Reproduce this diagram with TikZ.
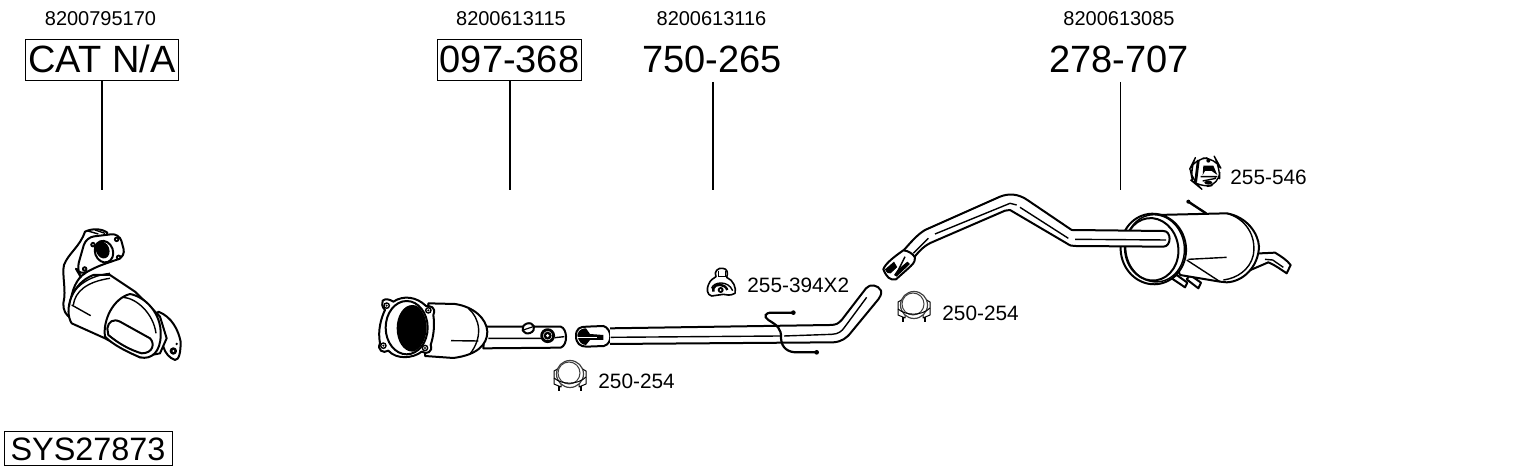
\documentclass[tikz,border=0pt]{standalone}
\usepackage{fontspec}
\setmainfont{Liberation Sans}
\usetikzlibrary{positioning}
\tikzset{
  refnum/.style={font=\fontsize{10}{12}\selectfont, inner sep=0pt},
  bignum/.style={font=\fontsize{19}{22}\selectfont, inner sep=0pt},
  boxnum/.style={bignum, draw, line width=0.5pt, minimum height=20.5pt},
  partnum/.style={font=\fontsize{10.4}{12}\selectfont, inner sep=0pt, anchor=west},
  leader/.style={line width=0.55pt},
  part/.style={draw, line width=1pt, fill=white, line join=round},
  clampicon/.pic={
    \draw[part, line width=0.5pt] (-9,-7) -- (-16,-3) -- (-16,10) -- (-9,13) -- cycle;
    \draw[part, line width=0.5pt] (9,-7) -- (16,-3) -- (16,10) -- (9,13) -- cycle;
    \draw[draw=black!75, fill=white, line width=0.6pt] (0,0) circle (13.5);
    \draw[draw=black!75, line width=0.5pt] (-1,-1) circle (11);
    \draw[line width=0.5pt] (-16,4) .. controls (-8,11) and (8,11) .. (16,3);
    \draw[line width=1pt] (-11,12) -- (-11,17) (11,12) -- (11,17);
  }
}
\begin{document}
\begin{tikzpicture}[x=0.5pt,y=-0.5pt]
\useasboundingbox (0,0) rectangle (1530,474);
% numbers on top
\node[refnum] (ref1) at (100.5,18.5) {8200795170};
\node[refnum] (ref2) at (511,18.5) {8200613115};
\node[refnum] (ref3) at (711.5,18.5) {8200613116};
\node[refnum] (ref4) at (1119,18.5) {8200613085};
\node[boxnum, minimum width=76.5pt] (cat) at (102,60) {\raisebox{1pt}{CAT N/A}};
\node[boxnum, minimum width=72pt] (front) at (509.5,60) {\raisebox{1pt}{097-368}};
\node[bignum] (middle) at (712,59) {750-265};
\node[bignum] (rear) at (1119,59) {278-707};
\node[draw, line width=0.5pt, inner sep=0pt, minimum width=84pt, minimum height=17pt, font=\fontsize{16.2}{18}\selectfont] (sys) at (88,449) {SYS27873};
% leader lines
\coordinate (catend) at (102,190);
\coordinate (frontend) at (510,190);
\coordinate (middleend) at (713,190);
\coordinate (rearend) at (1120.5,190);
\draw[leader] (cat.south -| catend) -- (catend);
\draw[leader] (front.south -| frontend) -- (frontend);
\draw[leader] (713,82) -- (middleend);
\draw[leader] (1120.5,82) -- (rearend);
% part labels
\node[partnum] (clamp1) at (598,381) {250-254};
\node[partnum] (clamp2) at (942,313) {250-254};
\node[partnum] (hanger1) at (747,285) {255-394X2};
\node[partnum] (hanger2) at (1230,177) {255-546};
% catalyst
\begin{scope}[shift={(30,210)},scale=1/3]
  \draw[part] (385,305) .. controls (425,320) and (445,360) .. (452,395) .. controls (452,425) and (448,450) .. (435,450) .. controls (420,445) and (405,430) .. (400,410) -- (370,330) -- cycle;
  \draw[part, fill=black] (430,423) circle (8);
  \fill[white] (430,423) circle (3);
  \fill (440,402) circle (4);
  \draw[part] (165,65) .. controls (185,55) and (215,55) .. (232,68) -- (200,160) -- (165,190) .. controls (140,205) and (125,240) .. (120,285) -- (125,325) .. controls (105,315) and (100,300) .. (100,280) .. controls (110,240) and (95,195) .. (102,165) .. controls (115,130) and (150,110) .. (165,65) -- cycle;
  \draw[line width=0.7pt] (170,62) -- (205,72) (195,60) -- (225,70);
  \draw[part] (125,340) .. controls (100,300) and (125,220) .. (190,195) -- (240,195) -- (315,245) -- (390,320) -- (410,385) -- (390,430) -- (330,442) -- (225,385) -- cycle;
  \draw[line width=0.7pt] (118,290) .. controls (118,245) and (160,200) .. (240,190);
  \draw[line width=0.7pt] (130,285) .. controls (135,245) and (170,215) .. (240,205);
  \draw[line width=0.7pt] (125,285) -- (182,317);
  \draw[part] (225,380) .. controls (218,330) and (250,265) .. (300,252) .. controls (345,260) and (395,310) .. (392,375) .. controls (392,425) and (365,450) .. (330,442) .. controls (290,425) and (250,405) .. (225,380) -- cycle;
  \draw[part] (232,355) .. controls (235,335) and (250,325) .. (270,335) -- (360,385) .. controls (375,400) and (370,430) .. (335,430) .. controls (300,420) and (265,400) .. (235,375) -- cycle;
  \draw[line width=0.7pt] (280,262) .. controls (320,265) and (370,310) .. (378,370);
  \draw[part, rounded corners=4pt] (168,82) -- (268,70) -- (287,140) -- (200,170) -- (150,197) -- (140,180) -- cycle;
  \draw[part, rotate around={20:(222,125)}] (222,125) ellipse (27 and 33);
  \fill[rotate around={20:(218,120)}] (218,120) ellipse (20 and 26);
  \foreach \i/\j in {189/104,260/88,266/142,164/177} {
    \draw[fill=black] (\i,\j) circle (7);
    \fill[white] (\i,\j) circle (2);
  }
\end{scope}
% front pipe with catalyst
\begin{scope}[shift={(370,280)},scale=1/3]
  \draw[part] (345,140) -- (572,140) .. controls (592,145) and (595,195) .. (572,203) -- (340,205) -- cycle;
  \draw[line width=0.7pt] (355,175) -- (515,175) (555,173) -- (583,170);
  \draw[part] (175,70) -- (255,72) .. controls (310,80) and (350,115) .. (352,155) .. controls (352,195) and (320,225) .. (250,234) -- (165,228) -- cycle;
  \draw[line width=0.7pt] (295,85) .. controls (330,115) and (340,170) .. (300,222);
  \draw[line width=0.7pt] (243,182) -- (325,183);
  \draw[part, rotate around={20:(475,145)}] (475,145) ellipse (18 and 15);
  \draw[line width=0.6pt] (460,150) -- (490,140);
  \draw[part, line width=1.4pt] (533,167) circle (18);
  \fill (533,167) circle (12);
  \fill[white] (533,167) circle (5);
  % flange
  \draw[part] (38,62) .. controls (45,55) and (60,58) .. (70,65) .. controls (100,45) and (140,50) .. (168,78) .. controls (180,78) and (200,80) .. (190,105) .. controls (195,140) and (190,170) .. (182,195) .. controls (190,215) and (170,225) .. (155,215) .. controls (130,235) and (80,240) .. (55,212) .. controls (40,222) and (20,210) .. (30,190) .. controls (22,150) and (35,110) .. (45,90) .. controls (35,80) and (35,70) .. (38,62) -- cycle;
  \draw[part] (110,143) ellipse (63 and 80);
  \begin{scope}
    \clip (110,143) ellipse (60 and 77);
    \fill (127,145) ellipse (47 and 70);
  \end{scope}
  \foreach \i/\j in {50/77,175/91,40/197,165/204} {
    \draw[line width=0.7pt, fill=white] (\i,\j) circle (8);
    \fill (\i,\j) circle (3.5);
  }
\end{scope}
% middle pipe
\begin{scope}[shift={(580,260)},scale=1/3]
  \draw[part] (-12,228) .. controls (-12,205) and (0,200) .. (20,200) -- (70,198) .. controls (95,205) and (100,250) .. (72,258) -- (20,260) .. controls (0,260) and (-12,250) .. (-12,228) -- cycle;
  \fill (-8,225) .. controls (-5,208) and (10,205) .. (18,205) -- (30,222) -- (70,225) -- (70,240) -- (30,240) -- (18,255) .. controls (5,255) and (-5,245) .. (-8,225) -- cycle;
  \draw[white, line width=0.7pt] (-10,232) -- (50,232);
  \draw[part] (90,205) -- (750,195) .. controls (770,195) and (775,190) .. (785,180) -- (858,85) .. controls (870,70) and (895,75) .. (903,92) .. controls (905,105) and (900,110) .. (895,118) -- (815,215) .. controls (800,235) and (785,245) .. (760,247) -- (90,252);
  \draw[line width=0.7pt] (92,232) -- (600,228) (612,228) -- (755,223) .. controls (775,222) and (785,215) .. (795,200) -- (860,112);
  \draw[line width=1.1pt, line cap=round] (640,158) -- (575,158) .. controls (555,158) and (550,170) .. (565,180) .. controls (590,195) and (605,205) .. (603,235) .. controls (605,265) and (625,277) .. (650,277) -- (710,277);
  \fill (640,158) circle (7) (710,277) circle (7);
  % hanger
  \draw[part, line width=0.8pt] (408,50) .. controls (400,35) and (415,22) .. (428,25) .. controls (442,25) and (445,40) .. (440,52) .. controls (460,60) and (470,85) .. (465,100) .. controls (450,108) and (440,105) .. (430,103) -- (395,108) .. controls (380,105) and (380,85) .. (385,75) .. controls (390,60) and (400,55) .. (408,50) -- cycle;
  \draw[line width=0.7pt] (415,32) -- (415,50) -- (436,50) -- (436,32);
  \draw[line width=0.7pt] (395,85) .. controls (400,65) and (445,60) .. (458,92);
  \draw[line width=1.2pt] (400,95) -- (400,85) .. controls (405,70) and (435,70) .. (442,90);
  \fill (422,90) circle (9);
  \fill[white] (422,90) circle (3);
\end{scope}
% rear muffler
\begin{scope}[shift={(870,180)},scale=1/3]
  \draw[part] (1130,222) -- (1215,218) .. controls (1235,230) and (1250,240) .. (1262,255) -- (1250,280) .. controls (1235,270) and (1215,255) .. (1195,247) -- (1130,275) -- cycle;
  \draw[line width=0.7pt] (1185,238) -- (1208,240) -- (1240,262);
  \draw[part] (905,295) -- (945,322) -- (952,308) -- (920,285) -- cycle;
  \draw[part] (950,298) -- (985,325) -- (993,308) -- (960,285) -- cycle;
  \draw[line width=1.2pt, line cap=round] (955,65) -- (1008,100);
  \fill (955,65) circle (6);
  \draw[part] (860,105) -- (1070,100) .. controls (1130,110) and (1165,160) .. (1167,200) .. controls (1165,260) and (1120,305) .. (1070,307) -- (1050,305) -- (930,285) -- cycle;
  \draw[line width=0.7pt] (1070,100) .. controls (1125,115) and (1160,165) .. (1150,225) .. controls (1140,270) and (1100,295) .. (1060,300);
  \draw[line width=0.7pt] (955,238) -- (1070,232);
  \draw[line width=0.7pt] (950,240) -- (1050,305);
  \draw[part, rotate around={8:(850,207)}] (850,207) ellipse (98 and 106);
  \draw[line width=0.7pt, rotate around={8:(855,205)}] (855,205) ellipse (88 and 101);
  \draw[line width=1pt, rotate around={8:(845,208)}] (845,208) ellipse (80 and 94);
  % pipe into muffler
  \draw[part] (130,235) .. controls (150,210) and (165,195) .. (190,185) -- (405,92) -- (420,90) -- (590,190) .. controls (600,197) and (605,198) .. (615,198) -- (880,200) .. controls (905,200) and (905,152) .. (880,153) -- (605,150) -- (475,62) .. controls (445,40) and (415,40) .. (390,50) -- (165,150) .. controls (140,165) and (120,190) .. (100,212) -- cycle;
  \draw[line width=0.7pt] (615,178) -- (888,180);
  \draw[line width=0.7pt] (130,220) -- (175,175) (195,162) -- (420,70) -- (440,75) (450,82) -- (595,175);
  % outlet end
  \draw[part] (100,211) .. controls (115,212) and (130,222) .. (135,233) .. controls (135,250) and (125,255) .. (115,265) -- (78,298) .. controls (60,302) and (50,292) .. (40,268) .. controls (45,250) and (80,225) .. (100,211) -- cycle;
  \fill (45,268) -- (72,245) -- (82,262) -- (62,280) .. controls (55,282) and (50,280) .. (45,268) -- cycle;
  \fill (82,270) -- (112,245) -- (120,252) -- (80,290) -- (72,285) -- cycle;
  \draw[line width=0.8pt, white] (62,285) -- (112,235);
  \draw[line width=0.7pt] (85,270) -- (105,230);
\end{scope}
% rear hanger
\begin{scope}[shift={(1180,145)},scale=1/3]
  \draw[part, line width=0.7pt, rounded corners=6pt] (45,40) -- (105,38) -- (120,65) -- (118,118) -- (60,128) -- (38,110) -- (30,70) -- cycle;
  \draw[line width=1.4pt] (55,45) -- (47,110);
  \fill (70,62) -- (100,62) -- (112,90) -- (95,78) -- (75,78) -- (68,90) -- cycle;
  \fill (85,47) circle (6);
  \fill (85,113) ellipse (12 and 6);
  \draw[line width=0.7pt] (62,95) -- (112,95) (68,108) -- (108,100);
\end{scope}
% clamps
\pic at (570,374) {clampicon};
\pic at (914,305) {clampicon};
\end{tikzpicture}
\end{document}
